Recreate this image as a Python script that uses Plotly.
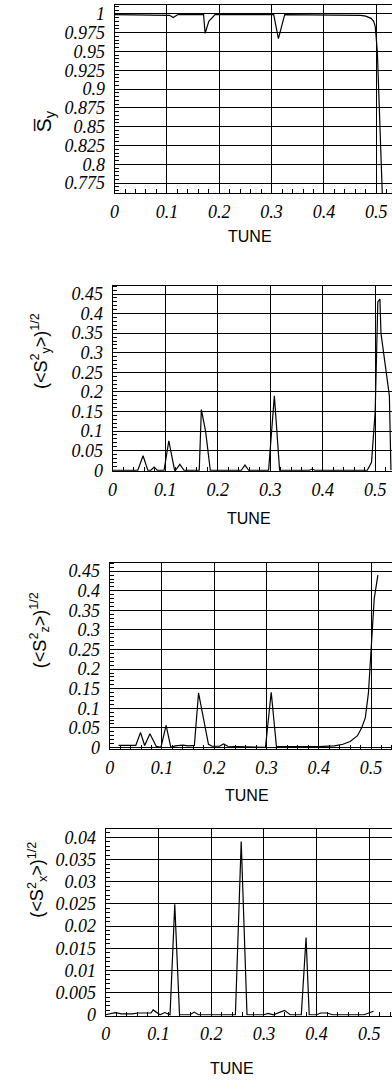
import plotly.graph_objects as go

W, H = 392, 1089

# ---------------- data ----------------
sy_tune = [0.00, 0.10, 0.105, 0.112, 0.121, 0.170, 0.173, 0.180, 0.192, 0.304, 0.313, 0.325,
           0.45, 0.47, 0.48, 0.49, 0.495, 0.498, 0.502, 0.506, 0.510, 0.512]
sy_mean = [0.999, 0.999, 0.998, 0.995, 0.999, 0.999, 0.974, 0.990, 0.999, 0.999, 0.967, 0.999,
           0.999, 0.998, 0.997, 0.994, 0.990, 0.983, 0.950, 0.880, 0.800, 0.750]

syrms_tune = [0.00, 0.048, 0.058, 0.067, 0.073, 0.079, 0.085, 0.098, 0.107, 0.118, 0.120, 0.128,
              0.136, 0.165, 0.169, 0.177, 0.186, 0.245, 0.252, 0.259, 0.297, 0.308, 0.318,
              0.375, 0.380, 0.385, 0.485, 0.493, 0.500, 0.505, 0.509, 0.511, 0.527, 0.530]
syrms_val = [0.0, 0.0, 0.037, 0.0, 0.0, 0.008, 0.0, 0.0, 0.075, 0.0, 0.0, 0.015,
             0.0, 0.0, 0.155, 0.100, 0.0, 0.0, 0.013, 0.0, 0.0, 0.190, 0.0,
             0.0, 0.003, 0.0, 0.0, 0.020, 0.150, 0.430, 0.437, 0.350, 0.190, 0.0]

szrms_tune = [0.017, 0.050, 0.059, 0.067, 0.077, 0.089, 0.098, 0.108, 0.117, 0.125, 0.140, 0.150,
              0.162, 0.170, 0.189, 0.196, 0.210, 0.218, 0.226, 0.298, 0.309, 0.319, 0.350,
              0.400, 0.430, 0.446, 0.460, 0.474, 0.482, 0.489, 0.495, 0.500, 0.506, 0.513]
szrms_val = [0.005, 0.005, 0.038, 0.005, 0.035, 0.003, 0.0, 0.056, 0.0, 0.004, 0.006, 0.004,
             0.005, 0.139, 0.008, 0.003, 0.003, 0.009, 0.003, 0.0, 0.141, 0.002, 0.002,
             0.002, 0.004, 0.008, 0.015, 0.030, 0.050, 0.076, 0.140, 0.250, 0.380, 0.440]

sxrms_tune = [0.000, 0.018, 0.030, 0.050, 0.062, 0.086, 0.090, 0.103, 0.112, 0.122, 0.131, 0.140,
              0.160, 0.168, 0.176, 0.246, 0.257, 0.268, 0.300, 0.308, 0.318, 0.339, 0.350,
              0.371, 0.380, 0.386, 0.400, 0.408, 0.420, 0.430, 0.490, 0.508]
sxrms_val = [0.0, 0.0005, 0.0002, 0.0002, 0.0004, 0.0004, 0.0011, 0.0, 0.0005, 0.0, 0.0249, 0.0,
             0.0, 0.0006, 0.0, 0.0, 0.0391, 0.0, 0.0, 0.0003, 0.0, 0.0010, 0.0,
             0.0, 0.0174, 0.0, 0.0, 0.0004, 0.0004, 0.0, 0.0, 0.0008]

x_ticks = [0, 0.1, 0.2, 0.3, 0.4, 0.5]

# ---------------- layout helpers ----------------
boxes = [(111, 3, 193), (109, 287, 474), (106, 567, 755), (102, 835, 1024)]
xranges = [[0, 0.530], [0, 0.532], [0, 0.540], [0, 0.543]]
yranges = [[0.7618, 1.0118], [-0.0025, 0.4702], [-0.005, 0.4702], [-0.0002, 0.0420]]
ydticks = [0.025, 0.05, 0.05, 0.005]
yminor = [0.005, 0.01, 0.01, 0.001]

series = [(sy_tune, sy_mean), (syrms_tune, syrms_val), (szrms_tune, szrms_val), (sxrms_tune, sxrms_val)]

tickfont = dict(family="Liberation Serif", size=18, color="black", style="italic")

fig = go.Figure()
layout = dict(width=W, height=H, margin=dict(l=0, r=0, t=0, b=0),
              paper_bgcolor="white", plot_bgcolor="white", showlegend=False)

for i, ((l, t, b), (xs, ys)) in enumerate(zip(boxes, series)):
    n = "" if i == 0 else str(i + 1)
    fig.add_trace(go.Scatter(x=xs, y=ys, mode="lines", line=dict(color="black", width=1.2),
                             xaxis="x" + n, yaxis="y" + n, cliponaxis=True, hoverinfo="skip"))
    layout["xaxis" + n] = dict(
        domain=[l / W, 1.0], anchor="y" + n, range=xranges[i],
        tickvals=x_ticks, ticktext=[("%g" % v) for v in x_ticks],
        showgrid=True, gridcolor="black", gridwidth=1,
        showline=True, linecolor="black", linewidth=1.2, mirror=True,
        ticks="", tickfont=tickfont, zeroline=False, ticklabelstandoff=2,
        minor=dict(dtick=0.02, tick0=0, ticks="inside", ticklen=4, tickcolor="black", showgrid=False),
    )
    layout["yaxis" + n] = dict(
        domain=[1 - b / H, 1 - t / H], anchor="x" + n, range=yranges[i],
        dtick=ydticks[i], tick0=0,
        showgrid=True, gridcolor="black", gridwidth=1,
        showline=True, linecolor="black", linewidth=1.2, mirror=False,
        ticks="", tickfont=tickfont, zeroline=False, ticklabelstandoff=5,
        minor=dict(dtick=yminor[i], tick0=0, ticks="inside", ticklen=4, tickcolor="black", showgrid=False),
    )

fig.update_layout(**layout)

ytitles = [
    ("S\u0305<sub>y</sub>", 40, 120, 21),
    ("(&lt;S<sup>2</sup><sub>y</sub>&gt;)<sup>1/2</sup>", 36, 353, 18),
    ("(&lt;S<sup>2</sup><sub>z</sub>&gt;)<sup>1/2</sup>", 35, 635, 18),
    ("(&lt;S<sup>2</sup><sub>x</sub>&gt;)<sup>1/2</sup>", 32, 887, 18),
]
for txt, px, py, fs in ytitles:
    fig.add_annotation(text=txt, x=px / W, y=1 - py / H, xref="paper", yref="paper",
                       showarrow=False, textangle=-90, xanchor="center", yanchor="middle",
                       font=dict(family="Liberation Sans", size=fs, color="black"))

tune_pos = [(248, 237), (247, 522), (245, 802), (230, 1077)]
for px, py in tune_pos:
    fig.add_annotation(text="TUNE", x=px / W, y=1 - py / H, xref="paper", yref="paper",
                       showarrow=False, xanchor="center", yanchor="middle",
                       font=dict(family="Liberation Sans", size=16, color="black"))

fig.write_html("out.html")
